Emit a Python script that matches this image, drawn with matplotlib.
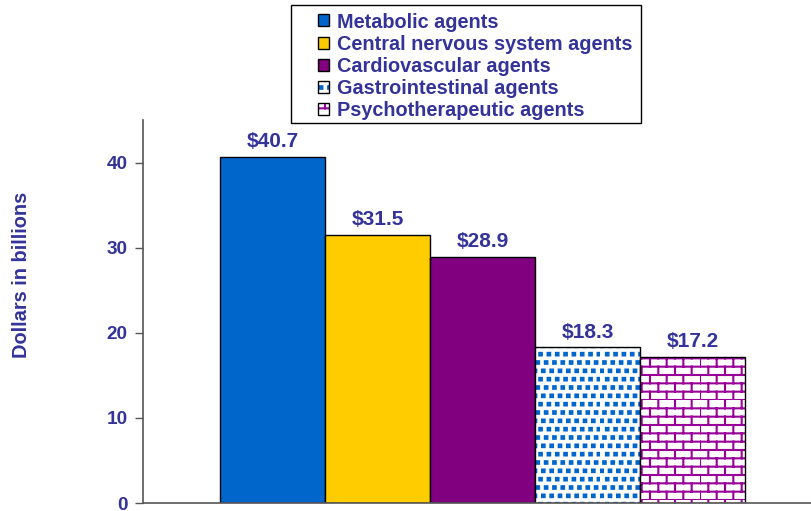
import warnings
warnings.filterwarnings("ignore")
import numpy as np
import matplotlib
matplotlib.use("Agg")
import matplotlib.pyplot as plt
import matplotlib.hatch as mhatch
from matplotlib.path import Path
from matplotlib.patches import Rectangle
from matplotlib.legend_handler import HandlerTuple

categories = ["Metabolic agents", "Central nervous system agents", "Cardiovascular agents",
              "Gastrointestinal agents", "Psychotherapeutic agents"]
values = [40.7, 31.5, 28.9, 18.3, 17.2]
yticks = [0, 10, 20, 30, 40]

TXT = "#333399"
face_colors = ["#0066CC", "#FFCC00", "#800080", "white", "white"]
hatch_colors = [None, None, None, "#0066CC", "#990099"]
hatches = [None, None, None, "q", "b"]


class BrickHatch(mhatch.HatchPatternBase):
    rows = 12
    cols = 6

    def __init__(self, hatch, density):
        self.on = "b" in (hatch or "")
        self.num_vertices = (self.rows * 2 + self.rows * self.cols * 2) if self.on else 0

    def set_vertices_and_codes(self, vertices, codes):
        k = 0
        for i in range(self.rows):
            y0 = i / self.rows
            y1 = (i + 1) / self.rows
            vertices[k] = (0, y0); vertices[k + 1] = (1, y0)
            codes[k] = Path.MOVETO; codes[k + 1] = Path.LINETO
            k += 2
            off = 0 if i % 2 == 0 else 0.5 / self.cols
            for j in range(self.cols):
                x = off + j / self.cols
                vertices[k] = (x, y0); vertices[k + 1] = (x, y1)
                codes[k] = Path.MOVETO; codes[k + 1] = Path.LINETO
                k += 2


class SquareDotHatch(mhatch.HatchPatternBase):
    filled = True
    n = 12
    s = 0.013

    def __init__(self, hatch, density):
        self.on = "q" in (hatch or "")
        self.num_vertices = (self.n * self.n * 5) if self.on else 0

    def set_vertices_and_codes(self, vertices, codes):
        k = 0
        s = self.s
        for i in range(self.n):
            yc = (i + 0.5) / self.n
            off = ((i % 3) / 3.0) / self.n
            for j in range(self.n):
                xc = off + (j + 0.2) / self.n
                pts = [(xc - s, yc - s), (xc + s, yc - s), (xc + s, yc + s), (xc - s, yc + s), (xc - s, yc - s)]
                for p in range(5):
                    vertices[k + p] = pts[p]
                codes[k] = Path.MOVETO
                codes[k + 1] = Path.LINETO
                codes[k + 2] = Path.LINETO
                codes[k + 3] = Path.LINETO
                codes[k + 4] = Path.CLOSEPOLY
                k += 5


mhatch._hatch_types.append(BrickHatch)
mhatch._hatch_types.append(SquareDotHatch)

plt.rcParams["font.family"] = ["Liberation Sans", "DejaVu Sans"]
plt.rcParams["font.weight"] = "bold"
plt.rcParams["hatch.linewidth"] = 1.5

W, H = 811, 511
fig = plt.figure(figsize=(W / 100, H / 100), dpi=100)
ax = fig.add_axes([143 / W, 8 / H, (820 - 143) / W, (503 - 120) / H])

x = np.arange(len(values))
handles = []
for i, v in enumerate(values):
    if hatches[i] is None:
        b = ax.bar(x[i], v, width=1.0, color=face_colors[i], edgecolor="black", linewidth=1.0)
        handles.append(b[0])
    else:
        b1 = ax.bar(x[i], v, width=1.0, color=face_colors[i], edgecolor=hatch_colors[i],
                    linewidth=0, hatch=hatches[i])
        b2 = ax.bar(x[i], v, width=1.0, fill=False, edgecolor="black", linewidth=1.0)
        handles.append((b1[0], b2[0]))
    ax.annotate(f"${v}", (x[i], v), xytext=(0, 4), textcoords="offset points",
                ha="center", va="bottom", fontsize=15, fontweight="bold", color=TXT)

ax.set_xlim(-1.238, 5.21)
ax.set_ylim(0, 45)
ax.set_yticks(yticks)
ax.set_xticks([])
ax.tick_params(axis="y", direction="out", length=6, width=1, color="#555555",
               labelsize=13.7, labelcolor=TXT, pad=5)
for lab in ax.get_yticklabels():
    lab.set_fontweight("bold")
for s in ["top", "right"]:
    ax.spines[s].set_visible(False)
for s in ["left", "bottom"]:
    ax.spines[s].set_color("#555555")
    ax.spines[s].set_linewidth(1.2)

fig.text(22 / W, 1 - 275 / H, "Dollars in billions", rotation=90, ha="center", va="center",
         fontsize=14.4, fontweight="bold", color=TXT)

fig.add_artist(Rectangle((291 / W, 1 - 123 / H), 350 / W, 118 / H, transform=fig.transFigure,
                         fill=False, edgecolor="black", linewidth=1.0))
leg = fig.legend(handles, categories, loc="upper left",
                 bbox_to_anchor=(318 / W, 1 - 12.5 / H),
                 borderaxespad=0, borderpad=0, fontsize=14.3, frameon=False,
                 handlelength=0.55, handleheight=0.55, handletextpad=0.4, labelspacing=0.16,
                 handler_map={tuple: HandlerTuple(ndivide=1)})
for t in leg.get_texts():
    t.set_color(TXT)
    t.set_fontweight("bold")

fig.savefig("out.png", dpi=100)
